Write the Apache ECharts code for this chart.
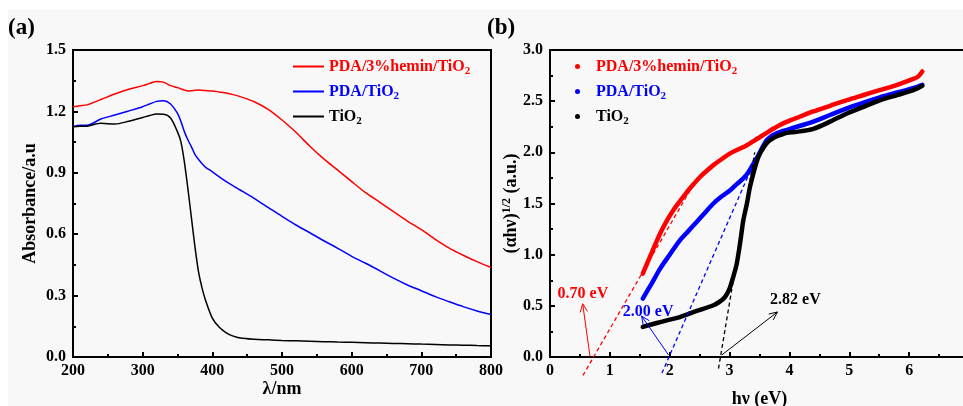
<!DOCTYPE html>
<html><head><meta charset="utf-8">
<script src="https://cdn.jsdelivr.net/npm/echarts/dist/echarts.min.js"></script>
<style>html,body{margin:0;padding:0;background:#fff}#c{width:963px;height:406px}</style>
</head><body><div id="c"></div>
<script>
// ---------- Panel (a) data ----------
const wavelength = [200,210,220,240,260,280,300,310,320,330,340,350,355,360,365,370,375,380,385,390,400,410,420,430,440,460,480,500,520,540,560,580,600,620,640,660,680,700,720,740,760,780,800];
const absHemin = [1.223,1.228,1.232,1.258,1.285,1.308,1.326,1.337,1.346,1.343,1.326,1.316,1.310,1.304,1.300,1.301,1.303,1.304,1.303,1.302,1.300,1.295,1.290,1.282,1.272,1.247,1.210,1.158,1.098,1.030,0.968,0.913,0.857,0.803,0.757,0.710,0.664,0.622,0.575,0.532,0.497,0.466,0.437];
const absPDA = [1.125,1.132,1.132,1.163,1.182,1.202,1.223,1.236,1.249,1.252,1.236,1.190,1.150,1.100,1.060,1.027,0.990,0.966,0.945,0.928,0.905,0.880,0.857,0.836,0.816,0.775,0.731,0.687,0.645,0.607,0.568,0.531,0.492,0.458,0.422,0.385,0.352,0.324,0.295,0.270,0.246,0.225,0.208];
const absTiO2 = [1.125,1.127,1.128,1.142,1.138,1.152,1.170,1.180,1.187,1.186,1.168,1.100,1.050,0.950,0.820,0.680,0.540,0.420,0.340,0.280,0.190,0.145,0.118,0.102,0.093,0.087,0.084,0.081,0.079,0.077,0.075,0.073,0.072,0.070,0.068,0.066,0.065,0.063,0.061,0.059,0.058,0.056,0.055];
const xTicksA = [200,300,400,500,600,700,800];

// ---------- Panel (b) data ----------
const eHemin = [1.55,1.70,1.84,1.95,2.06,2.18,2.29,2.40,2.51,2.62,2.73,2.87,3.01,3.15,3.29,3.40,3.51,3.62,3.73,3.85,3.96,4.18,4.40,4.68,4.96,5.24,5.52,5.80,6.08,6.15,6.22];
const vHemin = [0.815,1.02,1.207,1.33,1.435,1.53,1.614,1.69,1.761,1.82,1.875,1.935,1.99,2.03,2.07,2.11,2.15,2.19,2.23,2.27,2.30,2.35,2.40,2.455,2.51,2.56,2.61,2.66,2.72,2.74,2.79];
const ePDA = [1.55,1.70,1.84,2.00,2.17,2.31,2.45,2.59,2.73,2.87,3.01,3.12,3.23,3.32,3.40,3.46,3.51,3.57,3.62,3.68,3.73,3.85,3.96,4.18,4.40,4.68,4.96,5.24,5.52,5.80,6.08,6.22];
const vPDA = [0.571,0.72,0.864,1.00,1.14,1.23,1.32,1.41,1.50,1.57,1.63,1.69,1.745,1.81,1.89,1.95,2.006,2.07,2.12,2.15,2.17,2.20,2.22,2.26,2.30,2.365,2.43,2.485,2.54,2.585,2.63,2.66];
const eTiO2 = [1.55,1.80,2.00,2.17,2.45,2.73,2.82,2.90,2.96,3.01,3.06,3.12,3.18,3.23,3.29,3.34,3.40,3.46,3.51,3.57,3.62,3.68,3.76,3.85,3.96,4.12,4.40,4.68,4.96,5.24,5.52,5.80,6.08,6.22];
const vTiO2 = [0.294,0.335,0.365,0.39,0.45,0.506,0.535,0.571,0.62,0.685,0.78,0.913,1.13,1.337,1.50,1.66,1.80,1.92,1.99,2.05,2.09,2.12,2.15,2.17,2.19,2.20,2.23,2.30,2.38,2.445,2.51,2.56,2.61,2.65];

// tangent (dashed) lines and arrows, in data units of panel (b)
const tangentHemin = [[0.55,-0.18],[2.47,1.76]];
const tangentPDA = [[1.87,-0.157],[3.34,1.81]];
const tangentTiO2 = [[2.815,-0.114],[3.42,2.0]];
const arrowHemin = [[0.67,0.0],[0.546,0.52]];
const arrowPDA = [[1.98,0.02],[1.53,0.40]];
const arrowTiO2 = [[2.87,0.02],[3.80,0.44]];
const gapLabels = [
  {text:'0.70 eV', at:[0.55,0.62], color:'#ff0000'},
  {text:'2.00 eV', at:[1.64,0.44], color:'#0000ff'},
  {text:'2.82 eV', at:[4.10,0.555], color:'#000000'}
];

const FONT = 'Liberation Serif, Times New Roman, serif';
const RED = '#ff0000', BLUE = '#0000ff', BLACK = '#000000';
const zip = (a,b)=>a.map((v,i)=>[v,b[i]]);

const chart = echarts.init(document.getElementById('c'), null, {renderer:'canvas'});

const baseLabel = {color:'#000', fontFamily:FONT, fontWeight:'bold', fontSize:16};
const nameStyle = {color:'#000', fontFamily:FONT, fontWeight:'bold', fontSize:18};
function xAx(idx, min, max, interval, name, gap, fmt, showMax){
  return {gridIndex:idx, type:'value', min, max, interval, name, nameLocation:'middle', nameGap:gap,
    nameTextStyle:nameStyle, nameMoveOverlap:false,
    axisLine:{show:true, onZero:false, lineStyle:{color:'#000', width:2}},
    axisTick:{show:true, inside:true, length:5, lineStyle:{color:'#000', width:2}},
    minorTick:{show:true, splitNumber:2, length:3, lineStyle:{color:'#000', width:2}},
    splitLine:{show:false}, minorSplitLine:{show:false},
    axisLabel:Object.assign({margin:6, formatter:fmt, showMaxLabel:showMax, showMinLabel:true}, baseLabel)};
}
function yAx(idx, min, max, interval, name, gap, rich){
  return {gridIndex:idx, type:'value', min, max, interval, name, nameLocation:'middle', nameGap:gap,
    nameTextStyle:Object.assign({rich:rich||{}}, nameStyle), nameRotate:90, nameMoveOverlap:false,
    axisLine:{show:true, onZero:false, lineStyle:{color:'#000', width:2}},
    axisTick:{show:true, inside:true, length:5, lineStyle:{color:'#000', width:2}},
    minorTick:{show:true, splitNumber:2, length:3, lineStyle:{color:'#000', width:2}},
    splitLine:{show:false}, minorSplitLine:{show:false},
    axisLabel:Object.assign({margin:7, formatter:v=>v.toFixed(1), showMaxLabel:true, showMinLabel:true}, baseLabel)};
}

const legRich = {
  n:{fontFamily:FONT, fontWeight:'bold', fontSize:16, lineHeight:18},
  s:{fontFamily:FONT, fontWeight:'bold', fontSize:11, lineHeight:6, padding:[10,0,0,0]}
};
function legFmt(name){
  if(name.endsWith('TiO2')) return '{n|'+name.slice(0,-1)+'}{s|2}';
  return '{n|'+name+'}';
}
const NAMES = ['PDA/3%hemin/TiO2','PDA/TiO2','TiO2'];
const COLS = [RED, BLUE, BLACK];

const option = {
  backgroundColor:'#ffffff',
  animation:false,
  grid:[
    {left:73, right:472, top:50, bottom:49, show:true, borderColor:'#000', borderWidth:2, backgroundColor:'transparent', outerBoundsMode:'none', containLabel:false},
    {left:550, right:-6, top:50, bottom:49, show:true, borderColor:'#000', borderWidth:2, backgroundColor:'transparent', outerBoundsMode:'none', containLabel:false}
  ],
  xAxis:[
    xAx(0, xTicksA[0], xTicksA[xTicksA.length-1], 100, 'λ/nm', 23, v=>String(v), true),
    xAx(1, 0, 7, 1, 'hν (eV)', 33, v=>String(v), false)
  ],
  yAxis:[
    yAx(0, 0, 1.5, 0.3, 'Absorbance/a.u', 34),
    yAx(1, 0, 3.0, 0.5, '(αhν){sup|1/2} (a.u.)', 29, {sup:{fontFamily:FONT, fontWeight:'bold', fontSize:12, padding:[0,0,8,0]}})
  ],
  legend:[
    {left:288, top:51, orient:'vertical', itemWidth:31, itemHeight:14, itemGap:4, icon:'path://M0,6 L31,6 L31,8 L0,8 Z',
     data:NAMES.map((n,i)=>({name:n, itemStyle:{color:COLS[i]}, textStyle:{color:COLS[i]}})),
     formatter:legFmt, textStyle:{fontFamily:FONT, fontWeight:'bold', fontSize:16, rich:legRich}, selectedMode:false},
    {left:570, top:51, orient:'vertical', itemWidth:5, itemHeight:5, itemGap:4, icon:'circle',
     data:NAMES.map((n,i)=>({name:n+' ', itemStyle:{color:COLS[i]}, textStyle:{color:COLS[i]}})),
     formatter:n=>legFmt(n.trim()), textStyle:{fontFamily:FONT, fontWeight:'bold', fontSize:16, padding:[0,0,0,11], rich:legRich}, selectedMode:false}
  ],
  series:[
    {name:NAMES[0], type:'line', xAxisIndex:0, yAxisIndex:0, data:zip(wavelength,absHemin), symbol:'none', smooth:0.3, lineStyle:{color:RED, width:1.5}, itemStyle:{color:RED}},
    {name:NAMES[1], type:'line', xAxisIndex:0, yAxisIndex:0, data:zip(wavelength,absPDA), symbol:'none', smooth:0.3, lineStyle:{color:BLUE, width:1.5}, itemStyle:{color:BLUE}},
    {name:NAMES[2], type:'line', xAxisIndex:0, yAxisIndex:0, data:zip(wavelength,absTiO2), symbol:'none', smooth:0.3, lineStyle:{color:BLACK, width:1.5}, itemStyle:{color:BLACK}},
    {name:NAMES[0]+' ', type:'line', xAxisIndex:1, yAxisIndex:1, data:zip(eHemin,vHemin), symbol:'none', smooth:0.3, lineStyle:{color:RED, width:4.5, cap:'round'}, itemStyle:{color:RED}},
    {name:NAMES[1]+' ', type:'line', xAxisIndex:1, yAxisIndex:1, data:zip(ePDA,vPDA), symbol:'none', smooth:0.3, lineStyle:{color:BLUE, width:4.5, cap:'round'}, itemStyle:{color:BLUE}},
    {name:NAMES[2]+' ', type:'line', xAxisIndex:1, yAxisIndex:1, data:zip(eTiO2,vTiO2), symbol:'none', smooth:0.3, lineStyle:{color:BLACK, width:4.5, cap:'round'}, itemStyle:{color:BLACK}}
  ]
};
chart.setOption(option);

// annotations positioned through the chart's own coordinate conversion
const px = p => chart.convertToPixel({gridIndex:1}, p);
const g = [
  {type:'rect', z:-10, silent:true, shape:{x:8, y:10, width:955, height:396}, style:{fill:'#f8f8f8'}},
  {type:'text', z:10, style:{text:'(a)', x:8, y:28, verticalAlign:'middle', font:'bold 23px '+FONT, fill:'#000'}},
  {type:'text', z:10, style:{text:'(b)', x:487, y:28, verticalAlign:'middle', font:'bold 23px '+FONT, fill:'#000'}}
];
[[tangentHemin,RED],[tangentPDA,BLUE],[tangentTiO2,BLACK]].forEach(([seg,c])=>{
  const a=px(seg[0]), b=px(seg[1]);
  g.push({type:'line', z:10, shape:{x1:a[0],y1:a[1],x2:b[0],y2:b[1]}, style:{stroke:c, lineWidth:1.3, lineDash:[4,3]}});
});
[[arrowHemin,RED],[arrowPDA,BLUE],[arrowTiO2,BLACK]].forEach(([seg,c])=>{
  const a=px(seg[0]), b=px(seg[1]);
  const ang=Math.atan2(b[1]-a[1], b[0]-a[0]), L=9, w=0.42;
  g.push({type:'line', z:10, shape:{x1:a[0],y1:a[1],x2:b[0],y2:b[1]}, style:{stroke:c, lineWidth:1}});
  g.push({type:'polyline', z:10, shape:{points:[
    [b[0]-L*Math.cos(ang-w), b[1]-L*Math.sin(ang-w)], b,
    [b[0]-L*Math.cos(ang+w), b[1]-L*Math.sin(ang+w)]]}, style:{stroke:c, lineWidth:1, fill:null}});
});
gapLabels.forEach(l=>{
  const p=px(l.at);
  g.push({type:'text', z:11, style:{text:l.text, x:p[0], y:p[1], align:'center', verticalAlign:'middle', font:'bold 16px '+FONT, fill:l.color}});
});
chart.setOption({graphic:g});
</script></body></html>
